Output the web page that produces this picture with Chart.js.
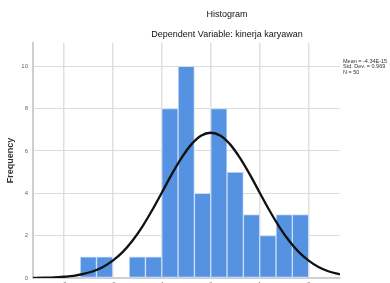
<!DOCTYPE html>
<html>
<head>
<meta charset="utf-8">
<script src="https://cdn.jsdelivr.net/npm/chart.js@4.4.0/dist/chart.umd.min.js"></script>
<style>
html,body{margin:0;padding:0;background:#fff;overflow:hidden;width:390px;height:283px;}
#wrap{position:relative;width:390px;height:296px;}
</style>
</head>
<body>
<div id="wrap"><canvas id="c" width="390" height="296"></canvas></div>
<script>
// Histogram bins (midpoints of standardized residual bins) and frequencies
const binMidpoints = [-2.5, -2.1667, -1.8333, -1.5, -1.1667, -0.8333, -0.5, -0.1667, 0.1667, 0.5, 0.8333, 1.1667, 1.5, 1.8333];
const frequencies  = [1, 1, 0, 1, 1, 8, 10, 4, 8, 5, 3, 2, 3, 3];
// Normal curve
const curveX = [-3.63, -3.4, -3.2, -3.0, -2.8, -2.6, -2.4, -2.2, -2.0, -1.8, -1.6, -1.4, -1.2, -1.0, -0.8, -0.6, -0.4, -0.2, 0, 0.2, 0.4, 0.6, 0.8, 1.0, 1.2, 1.4, 1.6, 1.8, 2.0, 2.2, 2.4, 2.64];
const curveY = [0.005, 0.015, 0.03, 0.06, 0.1, 0.19, 0.32, 0.52, 0.82, 1.22, 1.76, 2.42, 3.19, 4.03, 4.88, 5.66, 6.3, 6.72, 6.86, 6.72, 6.3, 5.66, 4.88, 4.03, 3.19, 2.42, 1.76, 1.22, 0.82, 0.52, 0.32, 0.17];
const xTicks = [-3, -2, -1, 0, 1, 2];
const yTicks = [0, 2, 4, 6, 8, 10];
const titleText = "Histogram";
const subtitleText = "Dependent Variable: kinerja karyawan";
const statsLines = ["Mean = -4.34E-15", "Std. Dev. = 0.969", "N = 50"];

const FONT = "'Liberation Sans', Arial, sans-serif";

const textPlugin = {
  id: 'texts',
  afterDraw(chart) {
    const ctx = chart.ctx;
    ctx.save();
    ctx.fillStyle = '#111';
    ctx.textAlign = 'center';
    ctx.textBaseline = 'middle';
    ctx.font = "9px " + FONT;
    ctx.fillText(titleText, 227, 15);
    ctx.fillText(subtitleText, 227, 35);
    ctx.textAlign = 'left';
    ctx.font = "5.5px " + FONT;
    ctx.fillStyle = '#333';
    statsLines.forEach((s, i) => ctx.fillText(s, 343, 61 + i * 5.5));
    ctx.restore();
  }
};

new Chart(document.getElementById('c'), {
  type: 'bar',
  data: {
    datasets: [
      {
        type: 'line',
        data: curveX.map((x, i) => ({x: x, y: curveY[i]})),
        borderColor: '#111',
        borderWidth: 2.3,
        pointRadius: 0,
        tension: 0.4,
        cubicInterpolationMode: 'monotone',
        fill: false,
        order: 0
      },
      {
        type: 'bar',
        data: binMidpoints.map((x, i) => ({x: x, y: frequencies[i]})),
        backgroundColor: '#5592e1',
        borderColor: 'rgba(200,220,250,0.9)',
        borderWidth: 1,
        borderSkipped: false,
        barPercentage: 1,
        categoryPercentage: 1,
        order: 1
      }
    ]
  },
  options: {
    responsive: false,
    animation: false,
    events: [],
    layout: {padding: {top: 43, right: 50, left: 5, bottom: 0}},
    plugins: {legend: {display: false}, tooltip: {enabled: false}, title: {display: false}},
    scales: {
      x: {
        type: 'linear',
        offset: false,
        min: -3.63,
        max: 2.64,
        afterBuildTicks(s) { s.ticks = xTicks.map(v => ({value: v})); },
        afterFit(s) { s.height = 18; },
        grid: {color: '#e0e0e0', lineWidth: 1.5, drawTicks: false, offset: false},
        border: {color: '#cfcfcf', width: 2},
        ticks: {font: {size: 6, family: FONT}, color: '#777', padding: 3}
      },
      y: {
        min: 0,
        max: 11.1,
        afterBuildTicks(s) { s.ticks = yTicks.map(v => ({value: v})); },
        afterFit(s) { s.width = 28; },
        grid: {color: '#dcdcdc', lineWidth: 1, drawTicks: false},
        border: {color: '#cfcfcf', width: 2},
        title: {display: true, text: 'Frequency', font: {size: 9, weight: 'bold', family: FONT}, color: '#333', padding: {top: 0, bottom: 4}},
        ticks: {font: {size: 6, family: FONT}, color: '#666', padding: 5}
      }
    }
  },
  plugins: [textPlugin]
});
</script>
</body>
</html>
